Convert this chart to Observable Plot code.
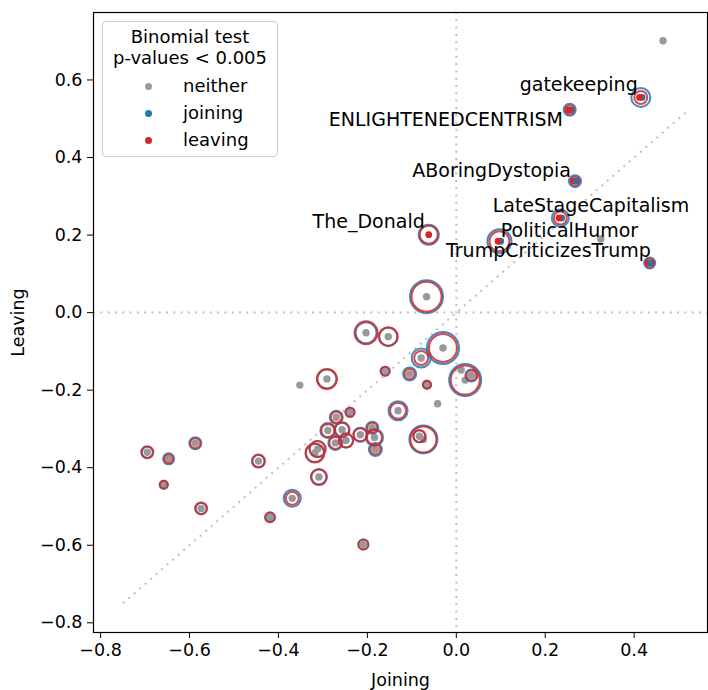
<!DOCTYPE html>
<html><head><meta charset="utf-8">
<script src="https://cdn.jsdelivr.net/npm/d3@7"></script>
<script src="https://cdn.jsdelivr.net/npm/@observablehq/plot@0.6"></script>
<style>
body{margin:0;background:#fff;font-family:"DejaVu Sans",sans-serif;}
#wrap{position:relative;width:708px;height:690px;}
.legend{position:absolute;left:102px;top:21px;width:174px;height:134px;border:1px solid #ccc;border-radius:4px;background:rgba(255,255,255,0.8);font-size:18px;color:#000;}
.legend .t{position:absolute;left:0;width:174px;text-align:center;line-height:20px;}
.legend .e{position:absolute;left:80px;line-height:20px;}
.legend .m{position:absolute;left:42px;width:7px;height:7px;border-radius:50%;}
</style></head>
<body><div id="wrap"></div>
<script>
// subreddit names (only labelled ones named)
const names = ["gatekeeping","ENLIGHTENEDCENTRISM","ABoringDystopia","LateStageCapitalism","The_Donald","PoliticalHumor","TrumpCriticizesTrump",
  "","","","","","","","","","","","","","","","","","","","","","","","","","","","","","","","","","","","","","","","",""];
const joining = [0.415,0.255,0.267,0.234,-0.062,0.097,0.435,
  0.465,0.325,-0.067,-0.203,-0.153,-0.030,-0.079,-0.160,-0.105,-0.066,0.011,0.020,0.034,-0.042,-0.131,-0.074,-0.083,
  -0.291,-0.352,-0.239,-0.270,-0.289,-0.257,-0.272,-0.248,-0.216,-0.189,-0.184,-0.182,-0.318,-0.312,-0.309,-0.369,
  -0.445,-0.419,-0.695,-0.647,-0.587,-0.658,-0.574,-0.209];
const leavingVals = [0.555,0.523,0.339,0.244,0.201,0.184,0.128,
  0.701,0.190,0.041,-0.052,-0.062,-0.091,-0.117,-0.151,-0.158,-0.186,-0.148,-0.174,-0.162,-0.235,-0.253,-0.327,-0.319,
  -0.171,-0.187,-0.257,-0.270,-0.304,-0.302,-0.336,-0.330,-0.315,-0.297,-0.322,-0.353,-0.362,-0.352,-0.424,-0.479,
  -0.383,-0.528,-0.360,-0.377,-0.337,-0.444,-0.505,-0.598];
// significance: n = neither, j = joining, l = leaving, br = both (red shown on top), bb = both (blue shown on top)
const significance = ["br","br","bb","br","l","br","bb",
  "n","n","n","n","n","n","n","n","n","n","n","n","n","n","n","n","n",
  "n","n","n","n","n","n","n","n","n","n","n","n","n","n","n","n",
  "n","n","n","n","n","n","n","n"];
// ring sizes (sample size indicators) for joining / leaving
const joinSize = [9.5,6,6,8.5,10,12,5.5,
  0,0,16.5,10.5,9,16,9.5,4.5,6.5,4,0,16,6,0,9.5,14,6,
  9.5,0,4.5,6.5,7.5,7,7,7,7,6,8.5,6.5,9,8,7.5,8.5,
  6,4.5,5.5,5.5,6,4,5.5,5];
const leaveSize = [6.5,4.5,4.5,6.5,9,10,4.5,
  0,0,15,11.5,9.5,14,7,4.5,5,4,0,14.5,5,0,8,13,6,
  10,0,4.5,5.5,6.5,7.5,6,7,6.5,5,7.5,5,9.5,8,8,6.5,
  6.5,5,6,4.5,5,4,6,5];
// annotation positions (data units, right-aligned end of text)
const labelNames = ["gatekeeping","ENLIGHTENEDCENTRISM","ABoringDystopia","LateStageCapitalism","PoliticalHumor","TrumpCriticizesTrump","The_Donald"];
const labelX = [0.408,0.240,0.258,0.524,0.409,0.4375,-0.071];
const labelY = [0.588,0.497,0.366,0.274,0.211,0.160,0.233];
const diagX = [-0.75,0.52];
const diagY = [-0.75,0.52];
const xTicks = [-0.8,-0.6,-0.4,-0.2,0.0,0.2,0.4];
const yTicks = [-0.8,-0.6,-0.4,-0.2,0.0,0.2,0.4,0.6];

const pts = joining.map((x,i)=>({name:names[i],x,y:leavingVals[i],sig:significance[i],jr:joinSize[i],lr:leaveSize[i]}));
const labels = labelNames.map((t,i)=>({t,x:labelX[i],y:labelY[i]}));
const diag = diagX.map((x,i)=>({x,y:diagY[i]}));

const BLUE="#1f77b4", RED="#d62728", GRAY="#999999";
const fmt = d3.format(".1f");
const dotted = {stroke:"#bfbfbf", strokeWidth:2, strokeDasharray:"2,5.3", strokeLinecap:"butt"};

const chart = Plot.plot({
  width:708, height:690,
  marginLeft:93, marginRight:1, marginTop:12, marginBottom:58,
  style:{fontFamily:"DejaVu Sans", fontSize:"17.5px", color:"#000", background:"#fff"},
  x:{domain:[-0.816,0.565]},
  y:{domain:[-0.825,0.774]},
  r:{type:"linear", domain:[0,20], range:[0,20]},
  marks:[
    Plot.ruleY([0], dotted),
    Plot.ruleX([0], dotted),
    Plot.line(diag, {x:"x", y:"y", ...dotted}),
    Plot.axisX({ticks:xTicks, tickFormat:fmt, tickSize:6, tickPadding:5, fontSize:17.5, label:"Joining", labelAnchor:"center", labelArrow:"none", labelOffset:53}),
    Plot.axisY({ticks:yTicks, tickFormat:fmt, tickSize:6, tickPadding:5, fontSize:17.5, label:"Leaving", labelAnchor:"center", labelArrow:"none", labelOffset:82}),
    Plot.frame({stroke:"#000", strokeWidth:1.2}),
    Plot.dot(pts.filter(d=>d.sig==="n"), {x:"x", y:"y", r:3.7, fill:GRAY}),
    Plot.dot(pts.filter(d=>d.sig==="bb"), {x:"x", y:"y", r:3.4, fill:RED, dx:-1.3}),
    Plot.dot(pts.filter(d=>d.sig==="br"), {x:"x", y:"y", r:3.4, fill:BLUE, dx:1.3}),
    Plot.dot(pts.filter(d=>d.sig==="bb"), {x:"x", y:"y", r:3.4, fill:BLUE, dx:1.3}),
    Plot.dot(pts.filter(d=>d.sig==="j"), {x:"x", y:"y", r:3.4, fill:BLUE}),
    Plot.dot(pts.filter(d=>d.sig==="l"), {x:"x", y:"y", r:3.4, fill:RED}),
    Plot.dot(pts.filter(d=>d.sig==="br"), {x:"x", y:"y", r:3.4, fill:RED, dx:-1.3}),
    Plot.dot(pts, {x:"x", y:"y", r:"jr", stroke:BLUE, strokeWidth:2, strokeOpacity:0.85, fill:"none"}),
    Plot.dot(pts, {x:"x", y:"y", r:"lr", stroke:RED, strokeWidth:2, strokeOpacity:0.85, fill:"none"}),
    Plot.text(labels, {x:"x", y:"y", text:"t", textAnchor:"end", fontSize:19, fill:"#000"})
  ]
});
const wrap = document.getElementById("wrap");
wrap.appendChild(chart);

const lg = document.createElement("div");
lg.className = "legend";
const legendTitle = ["Binomial test","p-values < 0.005"];
const legendItems = [["neither",GRAY],["joining",BLUE],["leaving",RED]];
legendTitle.forEach((t,i)=>{
  const d=document.createElement("div"); d.className="t"; d.style.top=(5+i*21.3)+"px"; d.textContent=t; lg.appendChild(d);
});
legendItems.forEach(([t,c],i)=>{
  const top = 54 + i*27;
  const m=document.createElement("div"); m.className="m"; m.style.background=c; m.style.top=(top+6.5)+"px"; lg.appendChild(m);
  const e=document.createElement("div"); e.className="e"; e.style.top=top+"px"; e.textContent=t; lg.appendChild(e);
});
wrap.appendChild(lg);
</script>
</body></html>
